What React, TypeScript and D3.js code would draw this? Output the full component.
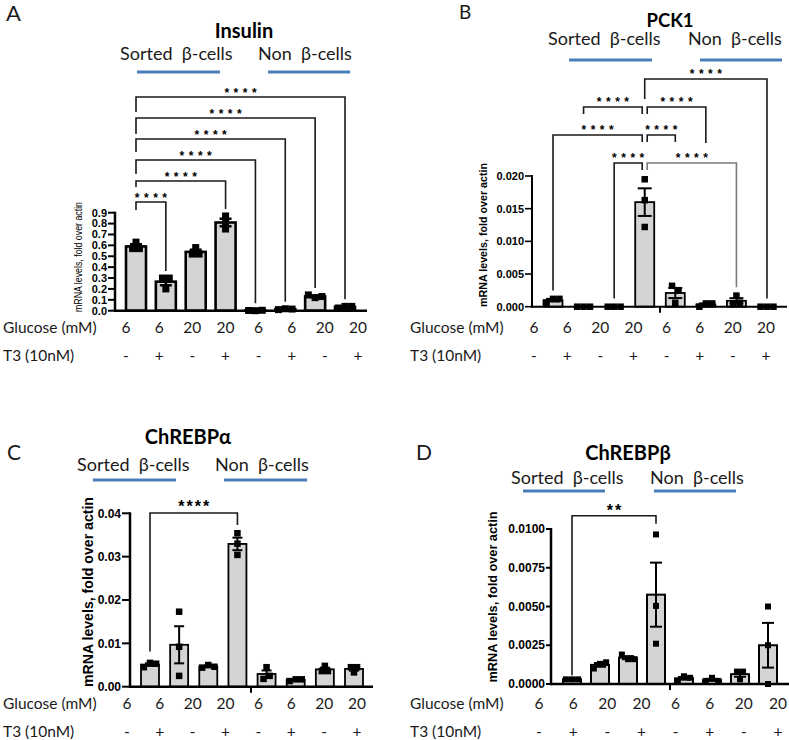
import React from "react";
import * as d3 from "d3";

// ---------------- DATA ----------------
const glucoseLabels = ["6", "6", "20", "20", "6", "6", "20", "20"];
const t3Labels = ["-", "+", "-", "+", "-", "+", "-", "+"];
const groupLabels = ["Sorted  β-cells", "Non  β-cells"];
const categories = glucoseLabels.map((g, i) => `${i < 4 ? "sorted" : "non"}-${g}-${t3Labels[i]}-${i}`);

const insulinValues = [
  [0.57, 0.63, 0.57],
  [0.3, 0.2, 0.3],
  [0.52, 0.58, 0.52],
  [0.87, 0.81, 0.75],
  [0.002, 0.0, 0.004],
  [0.01, 0.018, 0.015],
  [0.145, 0.12, 0.13],
  [0.025, 0.04, 0.04],
];
const pck1Values = [
  [0.0006, 0.0012, 0.0012],
  [0.0, 0.0, 0.0],
  [0.0, 0.0, 0.0],
  [0.0195, 0.0163, 0.0122],
  [0.0032, 0.0025, 0.0006],
  [0.0, 0.0005, 0.0005],
  [0.0004, 0.0017, 0.0006],
  [0.0, 0.0, 0.0],
];
const chrebpaValues = [
  [0.0045, 0.0055, 0.0053],
  [0.0173, 0.0092, 0.0025],
  [0.0044, 0.005, 0.0046],
  [0.0354, 0.033, 0.0304],
  [0.0018, 0.0045, 0.0025],
  [0.0013, 0.0017, 0.0017],
  [0.0036, 0.0048, 0.0036],
  [0.0045, 0.0033, 0.0045],
];
const chrebpbValues = [
  [0.0003, 0.0003, 0.0003],
  [0.001, 0.0013, 0.0014],
  [0.0019, 0.0016, 0.0016],
  [0.00965, 0.00504, 0.0026],
  [0.0002, 0.0005, 0.0004],
  [0.0002, 0.0004, 0.0002],
  [0.0008, 0.0003, 0.0008],
  [0.005, 0.0025, 0.0],
];

const insulinTicks = [0, 0.1, 0.2, 0.3, 0.4, 0.5, 0.6, 0.7, 0.8, 0.9];
const pck1Ticks = [0, 0.005, 0.01, 0.015, 0.02];
const chrebpaTicks = [0, 0.01, 0.02, 0.03, 0.04];
const chrebpbTicks = [0, 0.0025, 0.005, 0.0075, 0.01];

// comparisons: a, b = category index; level = stacking level; drops: px leg length (null = down to bar)
const insulinComparisons = [
  { a: 0, b: 1, label: "****", level: 0, aDrop: 8, bDrop: null },
  { a: 0, b: 3, label: "****", level: 1, aDrop: 6, bDrop: null },
  { a: 0, b: 4, label: "****", level: 2, aDrop: 14, bDrop: null },
  { a: 0, b: 5, label: "****", level: 3, aDrop: 13, bDrop: null },
  { a: 0, b: 6, label: "****", level: 4, aDrop: 16, bDrop: null },
  { a: 0, b: 7, label: "****", level: 5, aDrop: 15, bDrop: null },
];
const pck1Comparisons = [
  { a: 3, b: 2, label: "****", level: 0, aDrop: 7, bDrop: null, aShift: -2.5 },
  { a: 3, b: 6, label: "****", level: 0, aDrop: 7, bDrop: null, aShift: 2.5, gray: true },
  { a: 3, b: 0, label: "****", level: 1, aDrop: 7, bDrop: null, aShift: -2.5 },
  { a: 3, b: 4, label: "****", level: 1, aDrop: 7, bDrop: 7, aShift: 2.5 },
  { a: 3, b: 1, label: "****", level: 2, aDrop: 7, bDrop: 7, aShift: -2.5 },
  { a: 3, b: 5, label: "****", level: 2, aDrop: 7, bDrop: 36, aShift: 2.5 },
  { a: 3, b: 7, label: "****", level: 3, aDrop: 20, bDrop: null, aShift: 0 },
];
const chrebpaComparisons = [{ a: 0, b: 3, label: "****", level: 0, aDrop: null, bDrop: 12 }];
const chrebpbComparisons = [{ a: 0, b: 3, label: "**", level: 0, aDrop: null, bDrop: 8 }];

// ---------------- LAYOUT ----------------
const CAL = "Lato, 'Open Sans', sans-serif";
const ARIAL = "'Liberation Sans', Arial, sans-serif";
const NARROW = "'Liberation Sans Narrow', 'Liberation Sans', Arial, sans-serif";
const BLUE = "#4a7ebb";
const TXT = "#1a1a1a";

const panels = [
  {
    letter: "A", letterX: 6, letterY: 21, letterSize: 22,
    title: "Insulin", titleX: 244, titleY: 38, titleSize: 20,
    groupX: [120, 258], groupY: 60, groupSize: 18,
    lines: [[137, 220], [268, 350]], lineY: 72,
    values: insulinValues, ticks: insulinTicks, fmt: ".1f", yMax: 0.9,
    axisX: 115, axisEnd: 367, y0: 310.7, yTop: 212.7, tickLen: 7,
    tickFont: NARROW, tickSize: 11, tickBold: true,
    ylabelX: 82, ylabelY: 257, ylabelLen: 110, ylabelSize: 10, ylabelBold: false, ylabelFont: NARROW,
    barFirst: 136, barLast: 345, barW: 20, ptSize: 7, barStroke: 2.6, axisW: 2.5, errW: 2.5, capW: 12,
    rowLabelX: 3, rowFirst: 126, rowLast: 358, glucoseY: 333, t3Y: 361, rowSize: 15.5,
    breakX: null,
    comps: insulinComparisons, bracketBase: 202, bracketGap: 21, legGap: 3.5,
    starSize: 12, starSpacing: 4.5, starBold: true, starRaise: 7,
  },
  {
    letter: "B", letterX: 459, letterY: 19, letterSize: 19,
    title: "PCK1", titleX: 670, titleY: 27, titleSize: 18.5,
    groupX: [548, 688], groupY: 45, groupSize: 18,
    lines: [[569, 652], [700, 782]], lineY: 60,
    values: pck1Values, ticks: pck1Ticks, fmt: ".3f", yMax: 0.02,
    axisX: 532, axisEnd: 787, y0: 306.7, yTop: 176, tickLen: 7,
    tickFont: ARIAL, tickSize: 11, tickBold: true,
    ylabelX: 487, ylabelY: 235, ylabelLen: 144, ylabelSize: 10.7, ylabelBold: true, ylabelFont: ARIAL,
    barFirst: 553, barLast: 767, barW: 19, ptSize: 6.5, barStroke: 1.8, axisW: 2, errW: 2, capW: 14,
    rowLabelX: 410, rowFirst: 534, rowLast: 766, glucoseY: 333, t3Y: 361, rowSize: 15.5,
    breakX: 660,
    comps: pck1Comparisons, bracketBase: 163, bracketGap: 28, legGap: 5,
    starSize: 12, starSpacing: 4.5, starBold: true, starRaise: 8,
  },
  {
    letter: "C", letterX: 7, letterY: 460, letterSize: 21,
    title: "ChREBPα", titleX: 188, titleY: 444, titleSize: 20,
    groupX: [77, 215], groupY: 471, groupSize: 18,
    lines: [[93, 176], [224, 307]], lineY: 480,
    values: chrebpaValues, ticks: chrebpaTicks, fmt: ".2f", yMax: 0.04,
    axisX: 130, axisEnd: 373, y0: 686.7, yTop: 513.3, tickLen: 8,
    tickFont: ARIAL, tickSize: 12, tickBold: true,
    ylabelX: 93, ylabelY: 592, ylabelLen: 190, ylabelSize: 14, ylabelBold: true, ylabelFont: ARIAL,
    barFirst: 150, barLast: 354, barW: 18, ptSize: 6.5, barStroke: 1.8, axisW: 2.5, errW: 2, capW: 10,
    rowLabelX: 3, rowFirst: 127, rowLast: 357, glucoseY: 709, t3Y: 737, rowSize: 15.5,
    breakX: 251,
    comps: chrebpaComparisons, bracketBase: 513, bracketGap: 20, legGap: 8,
    starSize: 16, starSpacing: 2, starBold: true, starRaise: 10,
  },
  {
    letter: "D", letterX: 416, letterY: 460, letterSize: 21,
    title: "ChREBPβ", titleX: 628, titleY: 460, titleSize: 20,
    groupX: [511, 650], groupY: 484, groupSize: 18,
    lines: [[523, 605], [654, 736]], lineY: 491,
    values: chrebpbValues, ticks: chrebpbTicks, fmt: ".4f", yMax: 0.01,
    axisX: 551, axisEnd: 789, y0: 684, yTop: 529, tickLen: 5,
    tickFont: ARIAL, tickSize: 12, tickBold: true,
    ylabelX: 497, ylabelY: 597, ylabelLen: 171, ylabelSize: 12.7, ylabelBold: true, ylabelFont: ARIAL,
    barFirst: 572, barLast: 768, barW: 18, ptSize: 6, barStroke: 2, axisW: 2.5, errW: 2, capW: 12,
    rowLabelX: 410, rowFirst: 539, rowLast: 778, glucoseY: 709, t3Y: 737, rowSize: 15.5,
    breakX: 670,
    comps: chrebpbComparisons, bracketBase: 515.7, bracketGap: 20, legGap: 1,
    starSize: 16, starSpacing: 2, starBold: true, starRaise: 9,
  },
];

function pointOffsets(vals: number[], y: (v: number) => number, thr: number, spacing: number) {
  const idx = vals.map((v, i) => i).sort((i, j) => y(vals[j]) - y(vals[i]));
  const clusters: number[][] = [];
  idx.forEach((i) => {
    const last = clusters[clusters.length - 1];
    if (last && Math.abs(y(vals[last[last.length - 1]]) - y(vals[i])) < thr) last.push(i);
    else clusters.push([i]);
  });
  const off = vals.map(() => 0);
  clusters.forEach((c) => {
    const s = [...c].sort((a, b) => a - b);
    s.forEach((i, k) => (off[i] = (k - (s.length - 1) / 2) * spacing));
  });
  return off;
}

function Panel({ p }: { p: any }) {
  const y = d3.scaleLinear().domain([0, p.yMax]).range([p.y0, p.yTop]);
  const x = d3.scalePoint<string>().domain(categories).range([p.barFirst, p.barLast]);
  const xl = d3.scalePoint<string>().domain(categories).range([p.rowFirst, p.rowLast]);
  const fmt = d3.format(p.fmt);
  const stats = p.values.map((v: number[]) => {
    const mean = d3.mean(v) as number;
    const sem = (d3.deviation(v) || 0) / Math.sqrt(v.length);
    return { mean, sem, max: Math.max(d3.max(v) as number, mean + sem) };
  });
  const legEnd = (i: number) => y(stats[i].max) - p.ptSize / 2 - p.legGap;

  return (
    <g>
      <text x={p.letterX} y={p.letterY} fontFamily={CAL} fontSize={p.letterSize} fill={TXT}>{p.letter}</text>
      <text x={p.titleX} y={p.titleY} fontFamily={CAL} fontWeight="bold" fontSize={p.titleSize} textAnchor="middle" fill="#000">{p.title}</text>
      {groupLabels.map((g, i) => (
        <text key={g} x={p.groupX[i]} y={p.groupY} fontFamily={CAL} fontSize={p.groupSize} fill={TXT} style={{ whiteSpace: "pre" }}>{g}</text>
      ))}
      {p.lines.map((l: number[], i: number) => (
        <line key={i} x1={l[0]} x2={l[1]} y1={p.lineY} y2={p.lineY} stroke={BLUE} strokeWidth={3} />
      ))}

      {/* y axis */}
      <line x1={p.axisX} x2={p.axisX} y1={p.y0 + p.axisW / 2} y2={y(p.yMax) - 1} stroke="#000" strokeWidth={p.axisW} />
      {p.ticks.map((t: number) => (
        <g key={t}>
          <line x1={p.axisX - p.tickLen} x2={p.axisX} y1={y(t)} y2={y(t)} stroke="#000" strokeWidth={p.axisW * 0.8} />
          <text x={p.axisX - p.tickLen - 1} y={y(t)} dy="0.35em" textAnchor="end" fontFamily={p.tickFont} fontWeight={p.tickBold ? "bold" : "normal"} fontSize={p.tickSize} fill="#000">{fmt(t)}</text>
        </g>
      ))}
      <text transform={`translate(${p.ylabelX},${p.ylabelY}) rotate(-90)`} textAnchor="middle" fontFamily={p.ylabelFont} fontWeight={p.ylabelBold ? "bold" : "normal"} fontSize={p.ylabelSize} textLength={p.ylabelLen} lengthAdjust="spacingAndGlyphs" fill="#000">mRNA levels, fold over actin</text>

      {/* bars */}
      {stats.map((s: any, i: number) => {
        const cx = x(categories[i]) as number;
        return (
          <rect key={i} x={cx - p.barW / 2} width={p.barW} y={y(s.mean)} height={Math.max(0, y(0) - y(s.mean))} fill="#d4d4d4" stroke="#000" strokeWidth={p.barStroke} />
        );
      })}
      {/* x axis */}
      <line x1={p.axisX} x2={p.axisEnd} y1={p.y0} y2={p.y0} stroke="#000" strokeWidth={p.axisW} />
      {p.breakX != null && <line x1={p.breakX} x2={p.breakX} y1={p.y0} y2={p.y0 + 6} stroke="#000" strokeWidth={2} />}
      {/* error bars */}
      {stats.map((s: any, i: number) => {
        const cx = x(categories[i]) as number;
        const hi = y(s.mean + s.sem), lo = y(Math.max(0, s.mean - s.sem));
        return (
          <g key={i} stroke="#000" strokeWidth={p.errW}>
            <line x1={cx} x2={cx} y1={hi} y2={lo} />
            <line x1={cx - p.capW / 2} x2={cx + p.capW / 2} y1={hi} y2={hi} />
            <line x1={cx - p.capW / 2} x2={cx + p.capW / 2} y1={lo} y2={lo} />
          </g>
        );
      })}
      {/* points */}
      {p.values.map((v: number[], i: number) => {
        const cx = x(categories[i]) as number;
        const off = pointOffsets(v, y, p.ptSize * 0.8, p.barW * 0.34);
        return v.map((val, k) => (
          <rect key={`${i}-${k}`} x={cx + off[k] - p.ptSize / 2} y={y(val) - p.ptSize / 2} width={p.ptSize} height={p.ptSize} fill="#000" />
        ));
      })}

      {/* brackets */}
      {p.comps.map((c: any, i: number) => {
        const by = p.bracketBase - c.level * p.bracketGap;
        const xa = (x(categories[c.a]) as number) + (c.aShift || 0);
        const xb = x(categories[c.b]) as number;
        const ya = c.aDrop == null ? legEnd(c.a) : by + c.aDrop;
        const yb = c.bDrop == null ? legEnd(c.b) : by + c.bDrop;
        const col = c.gray ? "#7a7a7a" : "#1a1a1a";
        return (
          <g key={i}>
            <path d={`M${xa},${ya}V${by}H${xb}V${yb}`} fill="none" stroke={col} strokeWidth={1.6} />
            <text x={(xa + xb) / 2 + p.starSpacing / 2} y={by - p.starRaise + 0.58 * p.starSize} textAnchor="middle" fontFamily={ARIAL} fontWeight={p.starBold ? "bold" : "normal"} fontSize={p.starSize} letterSpacing={p.starSpacing} fill="#000">{c.label}</text>
          </g>
        );
      })}

      {/* row labels */}
      <text x={p.rowLabelX} y={p.glucoseY} fontFamily={CAL} fontSize={p.rowSize} fill={TXT}>Glucose (mM)</text>
      <text x={p.rowLabelX} y={p.t3Y} fontFamily={CAL} fontSize={p.rowSize} fill={TXT}>T3 (10nM)</text>
      {categories.map((c, i) => (
        <g key={c}>
          <text x={xl(c)} y={p.glucoseY} textAnchor="middle" fontFamily={CAL} fontSize={p.rowSize} fill={TXT}>{glucoseLabels[i]}</text>
          <text x={xl(c)} y={p.t3Y} textAnchor="middle" fontFamily={CAL} fontSize={p.rowSize} fill={TXT}>{t3Labels[i]}</text>
        </g>
      ))}
    </g>
  );
}

export default function App() {
  return (
    <svg width={789} height={740} viewBox="0 0 789 740" style={{ position: "absolute", left: 0, top: 0, background: "#fff" }}>
      <rect width={789} height={740} fill="#fff" />
      {panels.map((p) => (
        <Panel key={p.letter} p={p} />
      ))}
    </svg>
  );
}
